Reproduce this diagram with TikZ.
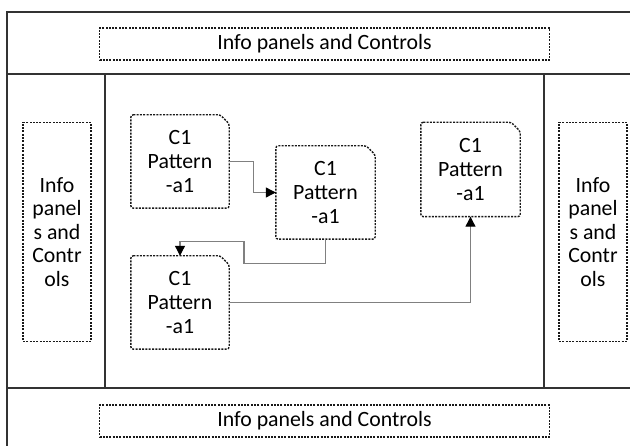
\documentclass[tikz,border=0pt]{standalone}
\usepackage{fontspec}
\setmainfont{Carlito}
\usetikzlibrary{arrows.meta}

\tikzset{
  frameline/.style={draw=black!80, line width=1.3pt},
  dotline/.style={draw=black!90, line width=1.4pt, dash pattern=on 2pt off 1.3pt},
  panel/.style={dotline, rectangle, inner sep=0pt, align=center,
                font=\fontsize{21.8}{23.6}\selectfont},
  pattbox/.style={rectangle, inner sep=0pt, align=center,
                  minimum width=98pt, minimum height=93pt,
                  font=\fontsize{21.8}{23.6}\selectfont},
  link/.style={draw=black!50, line width=1.1pt,
               -{Triangle[length=10pt,width=10pt,color=black]}},
}

\begin{document}
\begin{tikzpicture}[x=1pt, y=-1pt]
  \useasboundingbox[fill=white] (0,0) rectangle (630,446);

  % window layout: header, side columns, footer
  \draw[frameline] (630,12) -- (7,12) -- (7,446);
  \draw[frameline] (7,74) -- (630,74);
  \draw[frameline] (7,388) -- (630,388);
  \draw[frameline] (105,74) -- (105,388);
  \draw[frameline] (544,74) -- (544,388);

  % info panels
  \node[panel, minimum width=450pt, minimum height=32pt] (top) at (324.5,44) {Info panels and Controls};
  \node[panel, minimum width=450pt, minimum height=32pt] (bottom) at (324.5,421) {Info panels and Controls};
  \node[panel, minimum width=68pt, minimum height=219pt] (left) at (57,232) {Info\\panel\\s and\\Contr\\ols};
  \node[panel, minimum width=68pt, minimum height=219pt] (right) at (593,232) {Info\\panel\\s and\\Contr\\ols};

  % pattern components
  \node[pattbox] (a) at (180,161.5) {C1\\Pattern\\-a1};
  \node[pattbox, minimum width=99pt, minimum height=93pt] (b) at (325.5,192.5) {C1\\Pattern\\-a1};
  \node[pattbox] (c) at (180,302.5) {C1\\Pattern\\-a1};
  \node[pattbox, minimum width=99pt, minimum height=94pt] (d) at (470.5,169.5) {C1\\Pattern\\-a1};

  % snipped-corner outlines
  \foreach \n in {a,b,c,d}{
    \draw[dotline, rounded corners=2.5pt]
      (\n.north west) -- ([xshift=-9pt]\n.north east) -- ([yshift=-9pt]\n.north east)
      -- (\n.south east) -- (\n.south west) -- cycle;
  }

  % flow between components
  \draw[link] (a.east) -- ++(24,0) |- (b.west);
  \draw[link] (b.south) -- ++(0,24) -| ++(-81.5,-22) -| (c.north);
  \draw[link] (c.east) -| (d.south);
\end{tikzpicture}
\end{document}
